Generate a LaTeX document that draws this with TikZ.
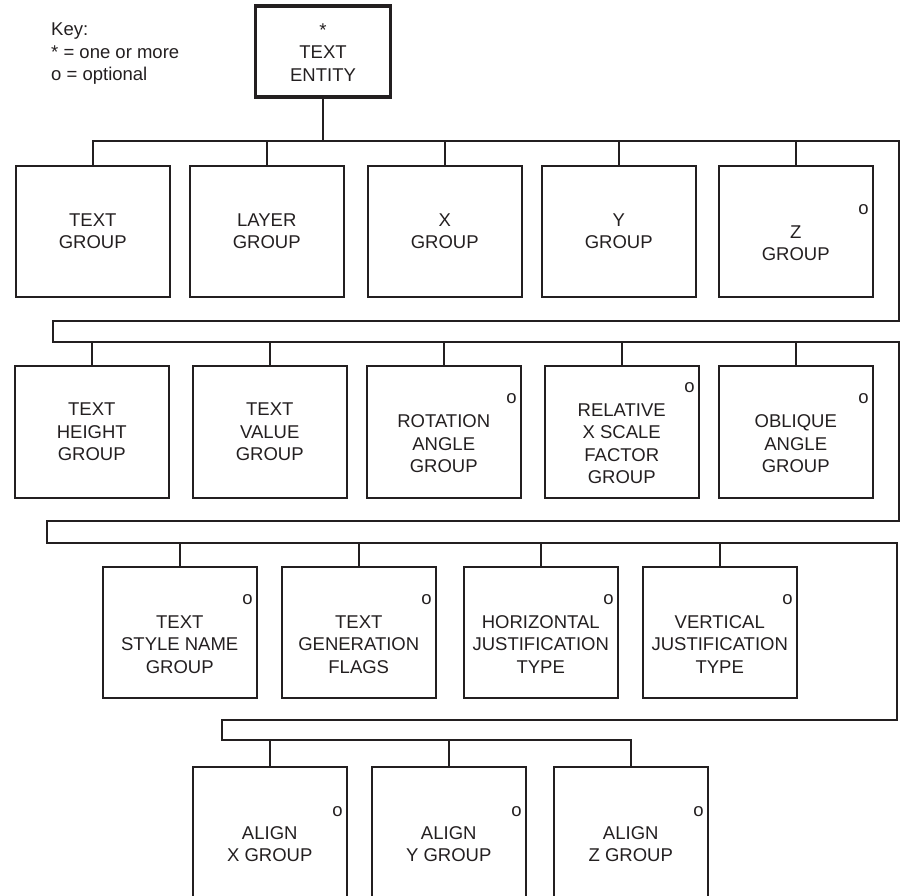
\documentclass[tikz,border=0pt]{standalone}
\usepackage{fontspec}
\setmainfont{Liberation Sans}
\definecolor{ink}{RGB}{35,31,32}
\begin{document}
\begin{tikzpicture}[x=1pt,y=-1pt,
  every node/.style={font=\fontsize{18.5}{22.5}\selectfont, text=ink},
  gbox/.style={draw=ink, line width=1.5pt, minimum width=154pt, minimum height=131pt, inner sep=0pt, anchor=north west},
  lbl/.style={align=center, inner sep=0pt},
  opt/.style={inner sep=0pt},
  conn/.style={draw=ink, line width=1.5pt}]
\useasboundingbox (0,0) rectangle (900,895);
\clip (0,0) rectangle (900,895);

% key
\node[lbl, anchor=north west, align=left] (key) at (51,23) {Key:\\* = one or more\\o = optional};

% top entity
\node[draw=ink, line width=3.2pt, minimum width=135pt, minimum height=91pt, inner sep=0pt] (te) at (323,51.5) {};
\node[lbl] (tet) at ([yshift=-1pt]te.center) {*\\TEXT\\ENTITY};

% row 1
\node[gbox] (b11) at (15,165) {};
\node[gbox] (b12) at (189,165) {};
\node[gbox] (b13) at (367,165) {};
\node[gbox] (b14) at (541,165) {};
\node[gbox] (b15) at (718,165) {};
\node[lbl] (t11) at (b11.center) {TEXT\\GROUP};
\node[lbl] (t12) at (b12.center) {LAYER\\GROUP};
\node[lbl] (t13) at (b13.center) {X\\GROUP};
\node[lbl] (t14) at (b14.center) {Y\\GROUP};
\node[lbl] (t15) at ([yshift=-12pt]b15.center) {Z\\GROUP};
\node[opt] (o15) at ([xshift=-10pt,yshift=-45pt]b15.north east) {o};

% row 2
\node[gbox, minimum height=132pt] (b21) at (14,365) {};
\node[gbox, minimum height=132pt] (b22) at (192,365) {};
\node[gbox, minimum height=132pt] (b23) at (366,365) {};
\node[gbox, minimum height=132pt] (b24) at (544,365) {};
\node[gbox, minimum height=132pt] (b25) at (718,365) {};
\node[lbl] (t21) at (b21.center) {TEXT\\HEIGHT\\GROUP};
\node[lbl] (t22) at (b22.center) {TEXT\\VALUE\\GROUP};
\node[lbl] (t23) at ([yshift=-12pt]b23.center) {ROTATION\\ANGLE\\GROUP};
\node[lbl] (t24) at ([yshift=-12pt]b24.center) {RELATIVE\\X SCALE\\FACTOR\\GROUP};
\node[lbl] (t25) at ([yshift=-12pt]b25.center) {OBLIQUE\\ANGLE\\GROUP};
\node[opt] (o23) at ([xshift=-10pt,yshift=-34pt]b23.north east) {o};
\node[opt] (o24) at ([xshift=-10pt,yshift=-23pt]b24.north east) {o};
\node[opt] (o25) at ([xshift=-10pt,yshift=-34pt]b25.north east) {o};

% row 3
\node[gbox] (b31) at (102,566) {};
\node[gbox] (b32) at (281,566) {};
\node[gbox] (b33) at (463,566) {};
\node[gbox] (b34) at (642,566) {};
\node[lbl] (t31) at ([yshift=-12pt]b31.center) {TEXT\\STYLE NAME\\GROUP};
\node[lbl] (t32) at ([yshift=-12pt]b32.center) {TEXT\\GENERATION\\FLAGS};
\node[lbl] (t33) at ([yshift=-12pt]b33.center) {HORIZONTAL\\JUSTIFICATION\\TYPE};
\node[lbl] (t34) at ([yshift=-12pt]b34.center) {VERTICAL\\JUSTIFICATION\\TYPE};
\node[opt] (o31) at ([xshift=-10pt,yshift=-34pt]b31.north east) {o};
\node[opt] (o32) at ([xshift=-10pt,yshift=-34pt]b32.north east) {o};
\node[opt] (o33) at ([xshift=-10pt,yshift=-34pt]b33.north east) {o};
\node[opt] (o34) at ([xshift=-10pt,yshift=-34pt]b34.north east) {o};

% row 4
\node[gbox] (b41) at (192,766) {};
\node[gbox] (b42) at (371,766) {};
\node[gbox] (b43) at (553,766) {};
\node[lbl] (t41) at ([yshift=-12pt]b41.center) {ALIGN\\X GROUP};
\node[lbl] (t42) at ([yshift=-12pt]b42.center) {ALIGN\\Y GROUP};
\node[lbl] (t43) at ([yshift=-12pt]b43.center) {ALIGN\\Z GROUP};
\node[opt] (o41) at ([xshift=-10pt,yshift=-46pt]b41.north east) {o};
\node[opt] (o42) at ([xshift=-10pt,yshift=-46pt]b42.north east) {o};
\node[opt] (o43) at ([xshift=-10pt,yshift=-46pt]b43.north east) {o};

% bus coordinates
\coordinate (c1b) at (899,141);
\coordinate (c1c) at (899,321);
\coordinate (c1d) at (53,321);
\coordinate (c2a) at (53,342);
\coordinate (c2b) at (899,342);
\coordinate (c2c) at (899,521);
\coordinate (c2d) at (47,521);
\coordinate (c3a) at (47,543);
\coordinate (c3b) at (897,543);
\coordinate (c3c) at (897,720);
\coordinate (c3d) at (222,720);
\coordinate (c4a) at (222,740);

\draw[conn] (b11.north) |- (c1b) -- (c1c) -- (c1d) -- (c2a) -- (c2b) -- (c2c) -- (c2d) -- (c3a) -- (c3b) -- (c3c) -- (c3d) -- (c4a) -| (b43.north);
\draw[conn] (te.south) -- (te.south |- c1b);
\foreach \b in {b12,b13,b14,b15} \draw[conn] (\b.north) -- (\b.north |- c1b);
\foreach \b in {b21,b22,b23,b24,b25} \draw[conn] (\b.north) -- (\b.north |- c2a);
\foreach \b in {b31,b32,b33,b34} \draw[conn] (\b.north) -- (\b.north |- c3a);
\foreach \b in {b41,b42} \draw[conn] (\b.north) -- (\b.north |- c4a);
\end{tikzpicture}
\end{document}
